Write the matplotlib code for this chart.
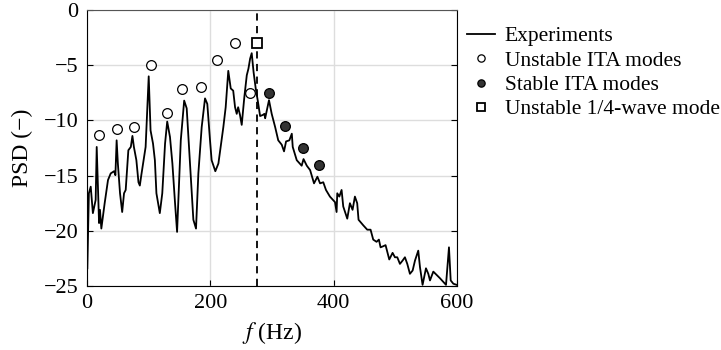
import matplotlib
matplotlib.use("Agg")
import matplotlib.pyplot as plt

plt.rcParams['font.family'] = ['Liberation Serif', 'DejaVu Serif']
plt.rcParams['mathtext.fontset'] = 'stix'

freq = [0.5, 3, 6, 9.5, 14, 15.7, 19.5, 21, 23.2, 28.6, 34, 38.4, 43.8, 46, 48, 50,
        53.5, 57, 60, 62.7, 67, 71, 73.6, 76, 80, 83.4, 85.6, 88, 92.5, 95, 100,
        103, 107, 110, 112.5, 118, 122, 126.5, 130, 134.5, 138.4, 142.7, 146,
        152, 157.5, 161.6, 167, 172.4, 176.7, 180.5, 185.9, 191.3, 195, 199.4,
        202, 208, 213, 221, 224.8, 229, 233, 237, 240, 242.7, 245, 248, 250.8,
        255, 259, 261.7, 264.4, 267, 270, 273.5, 276.8, 280.6, 285, 287.5, 288.8,
        291.5, 295, 299.4, 305, 310, 315.7, 319.4, 322.7, 328, 332, 333.5, 340,
        348, 351, 356.3, 361.7, 368, 373.5, 377.8, 383, 387.4, 393.8, 402,
        404.6, 405.7, 409, 412.7, 415.4, 421.9, 426.2, 430.5, 434.3, 438, 440.2,
        447.8, 454.3, 459.7, 464, 469.4, 473.2, 475.9, 480.2, 484, 490, 495.4,
        499.2, 503, 507.3, 511.6, 515.4, 519.2, 523.5, 527.9, 531.7, 537, 539.8,
        544, 549.5, 553.3, 556, 561.4, 572.2, 582, 586.8, 589.6, 593.9, 599.3]
psd = [-23.4, -16.6, -16.0, -18.4, -17.2, -12.4, -19.3, -18.1, -19.8, -17.5, -15.4,
       -14.8, -14.6, -14.96, -11.8, -13.9, -16.6, -18.3, -16.6, -16.3, -12.7,
       -12.4, -11.4, -12.4, -13.6, -15.6, -15.9, -14.96, -13.3, -12.4, -6.0,
       -10.9, -12.1, -13.6, -16.6, -18.4, -16.6, -12.1, -10.1, -11.5, -13.9,
       -17.5, -20.1, -11.8, -8.2, -8.9, -14.0, -19.0, -19.8, -14.8, -10.6, -8.0,
       -8.5, -11.8, -13.6, -14.6, -13.9, -10.6, -8.8, -5.5, -7.1, -7.3, -8.8,
       -9.4, -8.8, -9.5, -10.4, -7.9, -5.9, -5.3, -4.4, -3.9, -5.6, -7.1, -8.2,
       -9.6, -9.5, -9.4, -9.8, -9.1, -8.16, -9.4, -10.6, -11.8, -12.2, -12.8,
       -11.9, -11.8, -11.2, -12.4, -13.6, -14.1, -13.5, -14.1, -14.5, -15.7,
       -15.1, -15.7, -15.6, -16.3, -16.9, -17.4, -18.3, -16.6, -16.9, -16.3,
       -17.8, -18.9, -17.5, -18.1, -16.9, -17.5, -19.0, -19.5, -19.9, -19.9,
       -20.8, -21.0, -20.8, -21.5, -21.4, -21.3, -22.6, -22.0, -22.4, -22.4,
       -23.0, -22.7, -22.4, -23.0, -23.9, -23.6, -22.7, -21.8, -23.3, -24.9,
       -23.4, -23.9, -24.5, -23.7, -24.3, -24.9, -21.5, -24.5, -24.8, -24.9]

# unstable ITA modes
unst_f = [20, 48, 76, 103, 129, 154, 184, 210, 240.5, 264]
unst_p = [-11.36, -10.76, -10.55, -4.93, -9.34, -7.19, -6.98, -4.5, -2.96, -7.5]

# stable ITA modes
stab_f = [294.6, 321, 350.8, 375.7]
stab_p = [-7.5, -10.52, -12.48, -14.08]

# unstable quarter-wave mode
qw_f = [275.5]
qw_p = [-2.96]

fig = plt.figure(figsize=(7.21, 3.5), dpi=100)
ax = fig.add_axes([0.1207, 0.183, 0.5133, 0.788])

ax.grid(True, color='#dddddd', linewidth=1.0)
ax.set_axisbelow(True)
ax.axvline(qw_f[0], color='black', linestyle='--', linewidth=1.3, dashes=(4, 3))
ax.plot(freq, psd, color='black', linewidth=1.3, label='Experiments')
ax.plot(unst_f, unst_p, 'o', mfc='white', mec='black', ms=7, mew=0.9,
        label='Unstable ITA modes')
ax.plot(stab_f, stab_p, 'o', mfc='#333333', mec='black', ms=7, mew=0.9,
        label='Stable ITA modes')
ax.plot(qw_f, qw_p, 's', mfc='white', mec='black', ms=7, mew=1.3,
        label='Unstable 1/4-wave mode')

ax.set_xlim(0, 600)
ax.set_ylim(-25, 0)
ax.set_xticks([0, 200, 400, 600])
ax.set_yticks([0, -5, -10, -15, -20, -25])
ax.tick_params(direction='in', right=True, labelsize=16, length=4, pad=6)
ax.spines['top'].set_color('#555555')
ax.set_xlabel(r'$f$ (Hz)', fontsize=17, labelpad=5)
ax.set_ylabel('PSD (−)', fontsize=17, labelpad=8)

leg = ax.legend(loc='upper left', bbox_to_anchor=(467 / 721, 0.925),
                bbox_transform=fig.transFigure, frameon=False,
                fontsize=15.5, handlelength=1.3, handletextpad=0.45,
                labelspacing=0.2, borderaxespad=0, borderpad=0,
                markerscale=0.75)

fig.savefig('out.png', dpi=100)
